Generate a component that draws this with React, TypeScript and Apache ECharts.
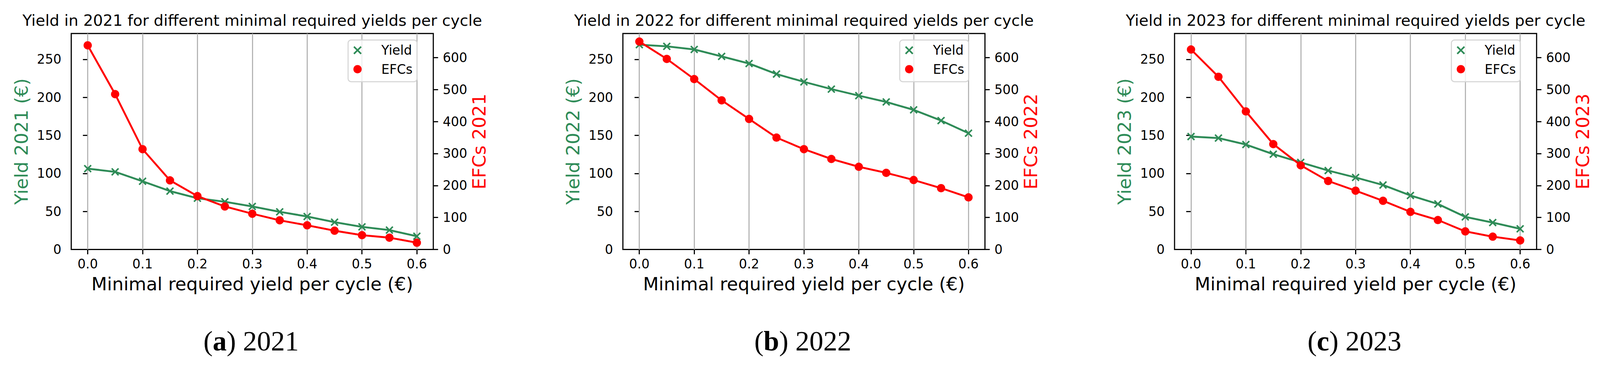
import React, { useEffect, useRef } from "react";
import * as echarts from "echarts";

// ---------- data ----------
const xValues = [0, 0.05, 0.1, 0.15, 0.2, 0.25, 0.3, 0.35, 0.4, 0.45, 0.5, 0.55, 0.6];
const years = ["2021", "2022", "2023"];
const captionLetters = ["a", "b", "c"];

const yield2021 = [106.3, 102.1, 89.7, 76.8, 67.4, 62.8, 56.6, 49.5, 43.4, 35.9, 29.8, 25.5, 17.4];
const efc2021 = [638.1, 485.5, 313.6, 216.0, 166.9, 134.5, 111.8, 91.3, 75.5, 58.7, 44.8, 37.0, 21.2];

const yield2022 = [269.3, 267.1, 263.0, 253.9, 244.5, 230.7, 220.4, 210.9, 202.3, 194.0, 183.6, 169.5, 152.9];
const efc2022 = [649.9, 595.6, 532.7, 466.2, 408.0, 349.8, 313.6, 282.9, 258.5, 239.6, 217.2, 191.7, 162.9];

const yield2023 = [148.5, 146.5, 138.0, 125.3, 114.5, 103.8, 94.7, 84.8, 71.0, 59.9, 42.9, 35.4, 27.2];
const efc2023 = [625.1, 539.8, 431.6, 329.3, 263.2, 214.1, 183.8, 152.2, 117.7, 92.1, 56.6, 40.1, 28.3];

const yieldSeries = [yield2021, yield2022, yield2023];
const efcSeries = [efc2021, efc2022, efc2023];

const xTicks = [0, 0.1, 0.2, 0.3, 0.4, 0.5, 0.6];
const yieldTicks = [0, 50, 100, 150, 200, 250];
const efcTicks = [0, 100, 200, 300, 400, 500, 600];

const xLabelText = "Minimal required yield per cycle (€)";
const titleText = (y: string) => `Yield in ${y} for different minimal required yields per cycle`;

// ---------- styles / layout (design pixels, scaled to the viewport) ----------
const W = 4238;
const H = 970;
const PLOT_LEFT = [188.7, 1649.9, 3111.1];
const PLOT_W = 959;
const PLOT_TOP = 88.7;
const PLOT_H = 572;
const GREEN = "#2e8b57";
const RED = "#ff0000";
const SANS = "DejaVu Sans";
const SERIF = "Liberation Serif";
const X_PATH =
  "path://M8.409,-11.591L11.591,-8.409L3.182,0L11.591,8.409L8.409,11.591L0,3.182L-8.409,11.591L-11.591,8.409L-3.182,0L-11.591,-8.409L-8.409,-11.591L0,-3.182Z";

function buildOption(s: number) {
  const p = (v: number) => v * s;
  const grid: any[] = [];
  const xAxis: any[] = [];
  const yAxis: any[] = [];
  const series: any[] = [];
  const title: any[] = [];
  const legend: any[] = [];

  const tickStyle = (values: number[]) => ({
    show: true,
    length: p(12.7),
    lineStyle: { color: "#000", width: p(3) },
    customValues: values,
  });

  years.forEach((year, k) => {
    const left = PLOT_LEFT[k];
    const cx = left + PLOT_W / 2;
    grid.push({
      left: p(left),
      top: p(PLOT_TOP),
      width: p(PLOT_W),
      height: p(PLOT_H),
      show: true,
      borderColor: "#000",
      borderWidth: p(3),
      backgroundColor: "transparent",
      containLabel: false,
    });
    xAxis.push({
      type: "value",
      gridIndex: k,
      min: -0.03,
      max: 0.63,
      axisLine: { show: false, onZero: false },
      axisTick: tickStyle(xTicks),
      axisLabel: {
        customValues: xTicks,
        formatter: (v: number) => v.toFixed(1),
        fontSize: p(34),
        fontFamily: SANS,
        color: "#000",
        margin: p(21),
        lineHeight: p(34),
      },
      splitLine: { show: false },
      name: xLabelText,
      nameLocation: "middle",
      nameGap: p(67),
      nameTextStyle: { fontSize: p(48), fontFamily: SANS, color: "#000", lineHeight: p(48) },
    });
    yAxis.push({
      type: "value",
      gridIndex: k,
      position: "left",
      min: 0,
      max: 284,
      axisLine: { show: false },
      axisTick: tickStyle(yieldTicks),
      axisLabel: {
        customValues: yieldTicks,
        fontSize: p(34),
        fontFamily: SANS,
        color: "#000",
        margin: p(26),
      },
      splitLine: { show: false },
      name: `Yield ${year} (€)`,
      nameLocation: "middle",
      nameRotate: 90,
      nameGap: p(108),
      nameTextStyle: { fontSize: p(48), fontFamily: SANS, color: GREEN, lineHeight: p(48) },
    });
    yAxis.push({
      type: "value",
      gridIndex: k,
      position: "right",
      min: 0,
      max: 675.1,
      axisLine: { show: false },
      axisTick: tickStyle(efcTicks),
      axisLabel: {
        customValues: efcTicks,
        fontSize: p(34),
        fontFamily: SANS,
        color: "#000",
        margin: p(25),
      },
      splitLine: { show: false },
      name: `EFCs ${year}`,
      nameLocation: "middle",
      nameRotate: 90,
      nameGap: p(98),
      nameTextStyle: { fontSize: p(48), fontFamily: SANS, color: RED, lineHeight: p(48) },
    });

    series.push({
      name: "Yield",
      type: "line",
      xAxisIndex: k,
      yAxisIndex: 2 * k,
      data: xValues.map((x, i) => [x, yieldSeries[k][i]]),
      symbol: X_PATH,
      symbolSize: p(21),
      showAllSymbol: true,
      itemStyle: { color: GREEN },
      lineStyle: { color: GREEN, width: p(5) },
      z: 2,
      markLine: {
        silent: true,
        z: 1,
        symbol: ["none", "none"],
        label: { show: false },
        lineStyle: { color: "#b0b0b0", width: p(2.8), type: "solid" },
        emphasis: { disabled: true },
        data: xTicks.map((v) => ({ xAxis: v })),
      },
    });
    series.push({
      name: "EFCs",
      type: "line",
      xAxisIndex: k,
      yAxisIndex: 2 * k + 1,
      data: xValues.map((x, i) => [x, efcSeries[k][i]]),
      symbol: "circle",
      symbolSize: p(22),
      showAllSymbol: true,
      itemStyle: { color: RED },
      lineStyle: { color: RED, width: p(5) },
      z: 3,
    });

    title.push({
      text: titleText(year),
      left: p(cx),
      top: p(33.5),
      textAlign: "center",
      padding: 0,
      textStyle: {
        fontSize: p(41),
        fontFamily: SANS,
        color: "#000",
        fontWeight: "normal",
        lineHeight: p(41),
      },
    });
    title.push({
      text: `{n|(}{b|${captionLetters[k]}}{n|) ${year}}`,
      left: p(cx - 3),
      top: p(866),
      textAlign: "center",
      padding: 0,
      textStyle: {
        fontSize: p(74),
        fontFamily: SERIF,
        color: "#000",
        rich: {
          n: { fontSize: p(74), fontFamily: SERIF, color: "#000", fontWeight: "normal" },
          b: { fontSize: p(74), fontFamily: SERIF, color: "#000", fontWeight: "bold" },
        },
      },
    });

    legend.push({
      data: [
        { name: "Yield", icon: X_PATH },
        { name: "EFCs", icon: "circle" },
      ],
      orient: "vertical",
      left: p(922 + (left - PLOT_LEFT[0])),
      top: p(106),
      itemWidth: p(68),
      itemHeight: p(22),
      itemGap: p(16),
      selectedMode: false,
      padding: [p(10), p(12), p(16), p(14)],
      backgroundColor: "rgba(255,255,255,0.8)",
      borderColor: "#d5d5d5",
      borderWidth: p(2.8),
      borderRadius: p(8),
      itemStyle: { borderWidth: 0 },
      textStyle: {
        fontSize: p(34),
        fontFamily: SANS,
        color: "#000",
        padding: [0, 0, 0, p(24)],
      },
    });
  });

  return {
    animation: false,
    backgroundColor: "#ffffff",
    grid,
    xAxis,
    yAxis,
    series,
    title,
    legend,
  };
}

export default function App() {
  const ref = useRef<HTMLDivElement>(null);
  useEffect(() => {
    const el = ref.current;
    if (!el) return;
    const vw = window.innerWidth || document.documentElement.clientWidth || W;
    const s = vw / W;
    el.style.width = `${W * s}px`;
    el.style.height = `${H * s}px`;
    const chart = echarts.init(el, null, { renderer: "svg" });
    chart.setOption(buildOption(s) as any);
    return () => chart.dispose();
  }, []);
  return (
    <div
      ref={ref}
      style={{ position: "fixed", left: 0, top: 0, width: W, height: H, background: "#fff" }}
    />
  );
}
